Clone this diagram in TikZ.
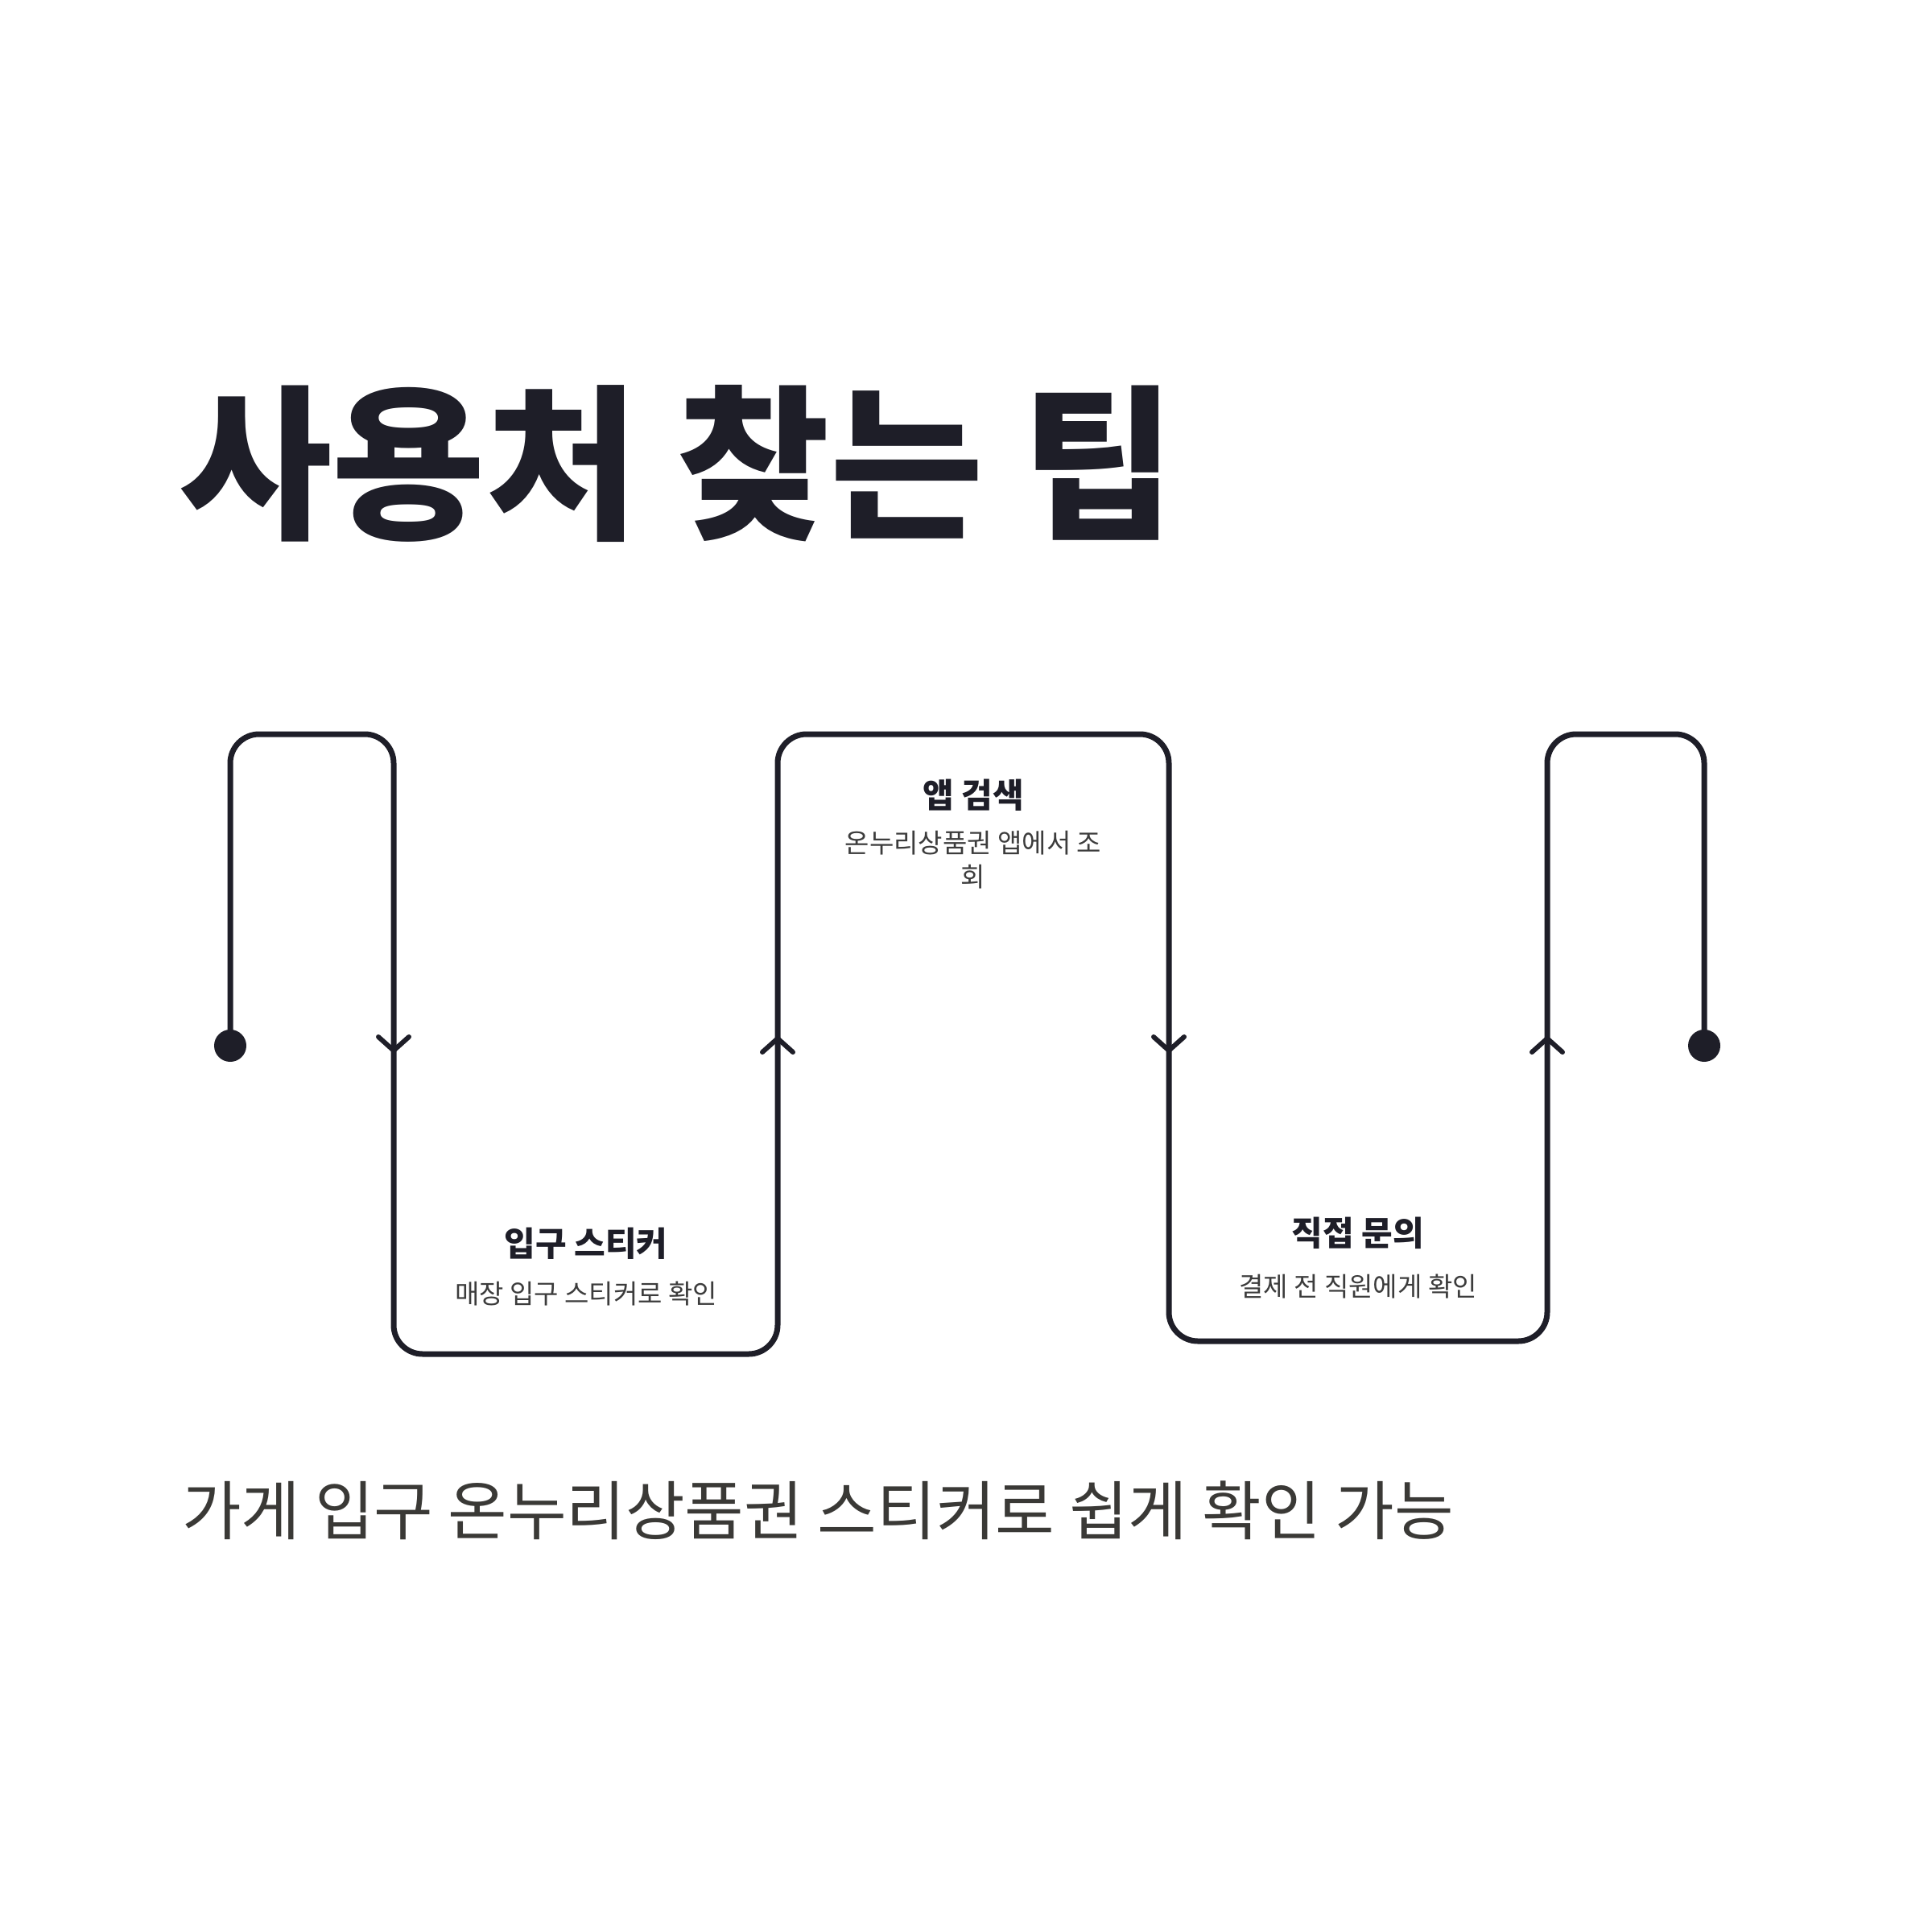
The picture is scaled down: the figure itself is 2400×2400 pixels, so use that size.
\documentclass[tikz,border=0pt]{standalone}
\usepackage{fontspec}
\setmainfont{Noto Sans CJK KR}
\usetikzlibrary{calc}
\definecolor{ink}{HTML}{1E1E28}
\definecolor{subgray}{HTML}{3C3C3C}
\definecolor{capgray}{HTML}{3A3936}
\tikzset{
  flow/.style={draw=ink, line width=7, rounded corners=36, line join=round},
  dotnode/.style={circle, fill=ink, inner sep=0, minimum size=40},
  chev/.style={draw=ink, line width=6, line cap=round, line join=miter},
  boxtitle/.style={inner sep=0, text=ink, font=\fontsize{42}{50}\selectfont\bfseries},
  boxsub/.style={inner sep=0, text=subgray, align=center, font=\fontsize{33}{42}\selectfont},
}
\begin{document}
\begin{tikzpicture}[x=1pt,y=-1pt]
\useasboundingbox[fill=white] (0,0) rectangle (2400,2400);

% title
\node[anchor=west, inner sep=0, text=ink, font=\fontsize{207}{248}\selectfont\bfseries] (title) at (222,576) {사용처 찾는 팁};

% end dots
\node[dotnode] (d1) at (286,1299) {};
\node[dotnode] (d2) at (2117,1299) {};

% path corners
\coordinate (p1) at (286,912);
\coordinate (p2) at (489,912);
\coordinate (p3) at (489,1682);
\coordinate (p4) at (966,1682);
\coordinate (p5) at (966,912);
\coordinate (p6) at (1452,912);
\coordinate (p7) at (1452,1666);
\coordinate (p8) at (1922,1666);
\coordinate (p9) at (1922,912);
\coordinate (p10) at (2117,912);

\draw[flow] (d1.center) -- (p1) -- (p2) -- (p3) -- (p4) -- (p5) -- (p6) -- (p7) -- (p8) -- (p9) -- (p10) -- (d2.center);

% direction chevrons
\coordinate (a1) at (489,1297);
\coordinate (a2) at (966,1298);
\coordinate (a3) at (1452,1297);
\coordinate (a4) at (1922,1298);
\draw[chev] ($(a1)+(-19,-9)$) -- ($(a1)+(0,8)$) -- ($(a1)+(19,-9)$);
\draw[chev] ($(a2)+(-19,9)$) -- ($(a2)+(0,-8)$) -- ($(a2)+(19,9)$);
\draw[chev] ($(a3)+(-19,-9)$) -- ($(a3)+(0,8)$) -- ($(a3)+(19,-9)$);
\draw[chev] ($(a4)+(-19,9)$) -- ($(a4)+(0,-8)$) -- ($(a4)+(19,9)$);

% step labels
\node[boxtitle] (t1) at (728,1545) {입구 스티커};
\node[boxsub] (s1) at (728,1607) {매장 입구 스티커로 확인};

\node[boxtitle] (t2) at (1209,988) {앱 검색};
\node[boxsub, anchor=north] (s2) at (1209,1032) {온누리상품권 앱에서 조\\회};

\node[boxtitle] (t3) at (1687,1532) {직접 문의};
\node[boxsub] (s3) at (1687,1598) {결제 전 직원에게 확인};

% caption
\node[anchor=west, inner sep=0, text=capgray, font=\fontsize{80}{96}\selectfont] (cap) at (226,1876) {가게 입구 온누리상품권 스티커로 쉽게 확인 가능};
\end{tikzpicture}
\end{document}
